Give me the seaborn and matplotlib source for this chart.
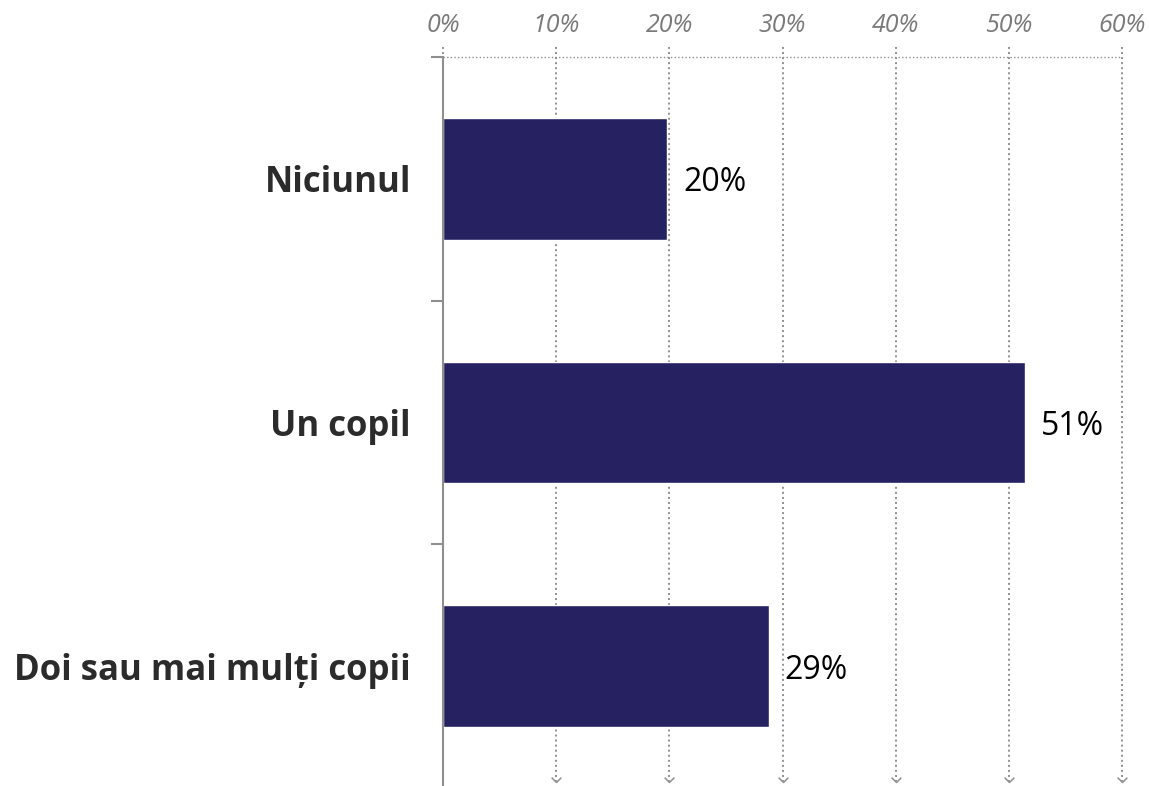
import matplotlib
matplotlib.use("Agg")
import matplotlib.pyplot as plt
import seaborn as sns
import pandas as pd
import numpy as np

categories = ["Niciunul", "Un copil", "Doi sau mai mulți copii"]
values = [19.8, 51.4, 28.8]
xticks = [0, 10, 20, 30, 40, 50, 60]
xtick_labels = ["0%", "10%", "20%", "30%", "40%", "50%", "60%"]

sns.set_theme(style="white")
plt.rcParams['font.family'] = ['Open Sans', 'DejaVu Sans']

df = pd.DataFrame({"cat": categories, "val": values})

fig = plt.figure(figsize=(11.49, 7.86), dpi=100)
ax = fig.add_axes([443/1149, -2/786, (1122-443)/1149, (788-57)/786])

sns.barplot(data=df, y="cat", x="val", orient="h", color="#262262",
            saturation=1, width=0.5, ax=ax)

ax.set_xlim(0, 60)
ax.set_ylim(2.5, -0.5)
ax.set_xlabel("")
ax.set_ylabel("")

grid_c = "#8f8f8f"
chevron = [(-1, 1), (0, 0), (1, 1)]
for x in xticks[1:]:
    ax.vlines(x, -0.54, 2.47, colors=grid_c, linestyles=(0, (1, 1.6)), linewidth=1.4,
              clip_on=False, zorder=0)
    ax.plot([x], [2.475], marker=chevron, markersize=7, markerfacecolor="none",
            markeredgecolor=grid_c, markeredgewidth=1.1, clip_on=False, zorder=0)
ax.vlines(0, -0.54, -0.5, colors=grid_c, linestyles=(0, (1, 1.6)), linewidth=1.4, clip_on=False)
ax.hlines(-0.5, 0, 60, colors=grid_c, linestyles=(0, (1, 1.6)), linewidth=1.0, clip_on=False)

for s in ["top", "right", "bottom"]:
    ax.spines[s].set_visible(False)
ax.spines["left"].set_color(grid_c)
ax.spines["left"].set_linewidth(1.5)

ax.xaxis.tick_top()
ax.set_xticks(xticks)
ax.set_xticklabels(xtick_labels, fontstyle="italic", color="#7a7a7a", fontsize=18)
ax.tick_params(axis="x", length=0, pad=14)

ax.set_yticks([0, 1, 2])
ax.set_yticklabels(categories, fontweight="bold", color="#2b2b2b", fontsize=25)
ax.tick_params(axis="y", which="major", length=0, pad=23)
ax.set_yticks([-0.5, 0.5, 1.5], minor=True)
ax.tick_params(axis="y", which="minor", left=True, length=9, width=1.5, color=grid_c, direction="out")

for i, v in enumerate(values):
    ax.text(v + 1.4, i + 0.016, f"{v:.0f}%", va="center", ha="left", fontsize=23, color="black")

fig.savefig("out.png", dpi=100)
